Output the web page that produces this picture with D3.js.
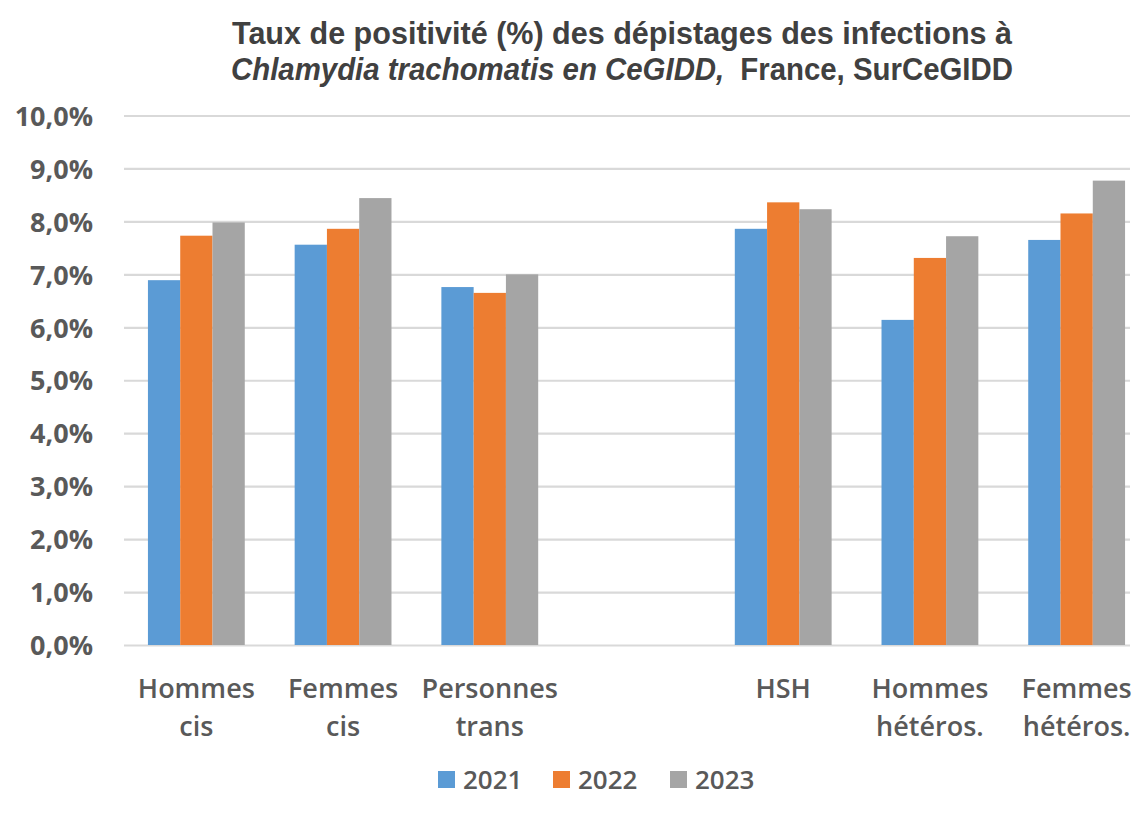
<!DOCTYPE html>
<html>
<head>
<meta charset="utf-8">
<script src="https://cdn.jsdelivr.net/npm/d3@7"></script>
<style>
  html, body { margin: 0; padding: 0; background: #fff; }
  svg { display: block; }
</style>
</head>
<body>
<svg id="chart" width="1140" height="817"></svg>
<script>
// ---- Data ----
const categories = ["Hommes cis", "Femmes cis", "Personnes trans", "", "HSH", "Hommes hétéros.", "Femmes hétéros."];
const years = ["2021", "2022", "2023"];
const values2021 = [6.89, 7.56, 6.76, null, 7.86, 6.14, 7.65];
const values2022 = [7.73, 7.86, 6.65, null, 8.36, 7.31, 8.15];
const values2023 = [7.98, 8.44, 7.00, null, 8.23, 7.72, 8.77];
const yTicks = [0, 1, 2, 3, 4, 5, 6, 7, 8, 9, 10];
const titleLine1 = "Taux de positivité (%) des dépistages des infections à";
const titleLine2Italic = "Chlamydia trachomatis en CeGIDD,";
const titleLine2Rest = "France, SurCeGIDD";

const series = [values2021, values2022, values2023];
const colors = ["#5B9BD5", "#ED7D31", "#A5A5A5"];

const svg = d3.select("#chart");
const plotLeft = 124, plotRight = 1130, plotTop = 115.5, plotBottom = 645;
const textColor = "#595959";

const y = d3.scaleLinear().domain([0, 10]).range([plotBottom, plotTop]);
const x0 = d3.scaleBand().domain(d3.range(categories.length)).range([123, 1150])
  .paddingInner(0.34).paddingOuter(0.17);
const x1 = d3.scaleBand().domain(d3.range(years.length)).range([0, x0.bandwidth()]).padding(0);

// Title
const title = svg.append("g").attr("fill", "#404040").attr("font-family", "'Liberation Sans', Arial, sans-serif")
  .attr("font-weight", "bold").attr("font-size", 32);
title.append("text").attr("x", 622).attr("y", 44).attr("text-anchor", "middle")
  .attr("textLength", 780).attr("lengthAdjust", "spacingAndGlyphs").text(titleLine1);
// line 2: two separate texts, scaled together to fit the same width
const tA = title.append("text").attr("y", 80).attr("font-style", "italic").text(titleLine2Italic);
const tB = title.append("text").attr("y", 80).text(titleLine2Rest);
const wA = tA.node().getComputedTextLength();
const wB = tB.node().getComputedTextLength();
const gap = 16;
const total = 782;
const f = (total - gap) / (wA + wB);
const startX = 622 - total / 2;
tA.attr("x", startX).attr("textLength", wA * f).attr("lengthAdjust", "spacingAndGlyphs");
tB.attr("x", startX + wA * f + gap).attr("textLength", wB * f).attr("lengthAdjust", "spacingAndGlyphs");

// Y axis with gridlines
const yAxis = d3.axisLeft(y).tickValues(yTicks)
  .tickFormat(d => d.toFixed(1).replace(".", ",") + "%")
  .tickSize(-(plotRight - plotLeft)).tickPadding(31);
const gy = svg.append("g").attr("transform", `translate(${plotLeft},0)`).call(yAxis);
gy.select(".domain").remove();
gy.selectAll(".tick line").attr("stroke", "#D9D9D9").attr("stroke-width", 2.2);
gy.selectAll(".tick text").attr("fill", textColor)
  .attr("font-family", "'Open Sans', sans-serif").attr("font-weight", "bold")
  .attr("font-size", 27).attr("dy", "0.36em");

// Bars
const groups = svg.append("g").selectAll("g")
  .data(categories.map((c, i) => i).filter(i => categories[i] !== ""))
  .join("g").attr("transform", i => `translate(${x0(i)},0)`);
groups.selectAll("rect")
  .data(i => series.map((s, k) => ({ k, v: s[i] })))
  .join("rect")
  .attr("x", d => x1(d.k))
  .attr("width", x1.bandwidth())
  .attr("y", d => y(d.v))
  .attr("height", d => y(0) - y(d.v))
  .attr("fill", d => colors[d.k]);

// X labels
const xl = svg.append("g").attr("fill", textColor)
  .attr("font-family", "'Open Sans', sans-serif").attr("font-weight", 600).attr("font-size", 27)
  .attr("text-anchor", "middle");
categories.forEach((c, i) => {
  if (!c) return;
  const idx = c.indexOf(" ");
  const lines = idx < 0 ? [c] : [c.slice(0, idx), c.slice(idx + 1)];
  const cx = x0(i) + x0.bandwidth() / 2;
  const t = xl.append("text").attr("x", cx).attr("y", 698);
  lines.forEach((ln, j) => t.append("tspan").attr("x", cx).attr("y", 698 + j * 38).text(ln));
});

// Legend
const legendX = [438, 553, 670];
const lg = svg.append("g");
years.forEach((yr, k) => {
  lg.append("rect").attr("x", legendX[k]).attr("y", 771).attr("width", 17).attr("height", 17).attr("fill", colors[k]);
  lg.append("text").attr("x", legendX[k] + 25).attr("y", 789).attr("fill", textColor)
    .attr("font-family", "'Open Sans', sans-serif").attr("font-weight", 600).attr("font-size", 26).text(yr);
});
</script>
</body>
</html>
